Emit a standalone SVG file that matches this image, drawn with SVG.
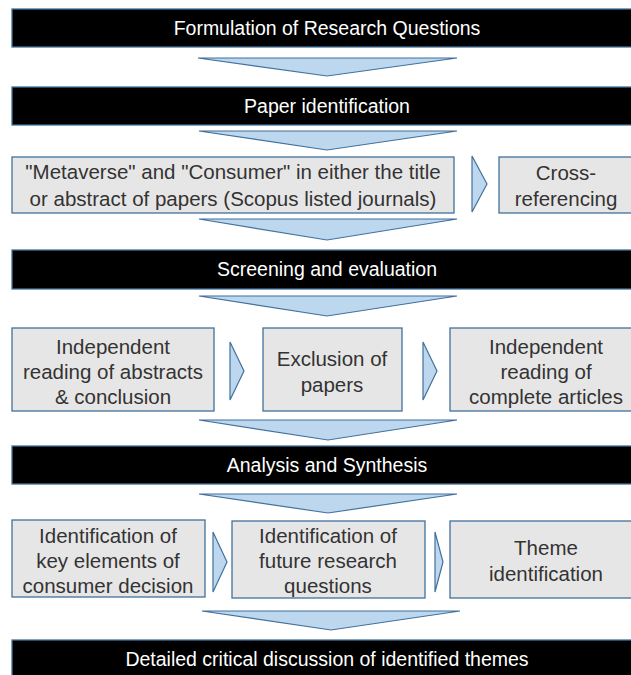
<svg xmlns="http://www.w3.org/2000/svg" width="631" height="675" viewBox="0 0 631 675">
  <style>
    .banner { fill: #000000; stroke: #41719c; stroke-width: 1.3; }
    .box { fill: #e7e6e6; stroke: #41719c; stroke-width: 1.3; }
    .flow { fill: #bdd7ee; stroke: #41719c; stroke-width: 1.2; stroke-linejoin: miter; }
    .bt { fill: #ffffff; font-family: "Liberation Sans", Arial, sans-serif; font-size: 19.5px; text-anchor: middle; dominant-baseline: central; }
    .t { fill: #333333; font-family: "Liberation Sans", Arial, sans-serif; font-size: 20.5px; text-anchor: middle; dominant-baseline: central; }
  </style>
  <rect width="631" height="675" fill="#ffffff"/>

  <g id="formulation">
    <rect class="banner" x="12" y="9" width="632" height="38"/>
    <text class="bt" x="327" y="28">Formulation of Research Questions</text>
  </g>

  <g id="paper-identification">
    <rect class="banner" x="12" y="87" width="632" height="38"/>
    <text class="bt" x="327" y="106">Paper identification</text>
  </g>

  <g id="search-terms">
    <rect class="box" x="12" y="157" width="442" height="56"/>
    <text class="t" x="233" y="171">"Metaverse" and "Consumer" in either the title</text>
    <text class="t" x="233" y="198">or abstract of papers (Scopus listed journals)</text>
  </g>

  <g id="cross-referencing">
    <rect class="box" x="499" y="157" width="145" height="56"/>
    <text class="t" x="566" y="172">Cross-</text>
    <text class="t" x="566" y="198">referencing</text>
  </g>

  <g id="screening">
    <rect class="banner" x="12" y="250" width="632" height="39"/>
    <text class="bt" x="327" y="269">Screening and evaluation</text>
  </g>

  <g id="reading-abstracts">
    <rect class="box" x="12" y="328" width="202" height="83"/>
    <text class="t" x="113" y="346">Independent</text>
    <text class="t" x="113" y="371">reading of abstracts</text>
    <text class="t" x="113" y="396">&amp; conclusion</text>
  </g>

  <g id="exclusion">
    <rect class="box" x="263" y="328" width="139" height="83"/>
    <text class="t" x="332" y="358">Exclusion of</text>
    <text class="t" x="332" y="384">papers</text>
  </g>

  <g id="reading-articles">
    <rect class="box" x="450" y="328" width="194" height="83"/>
    <text class="t" x="546" y="346">Independent</text>
    <text class="t" x="546" y="371">reading of</text>
    <text class="t" x="546" y="396">complete articles</text>
  </g>

  <g id="analysis">
    <rect class="banner" x="12" y="446" width="632" height="38"/>
    <text class="bt" x="327" y="465">Analysis and Synthesis</text>
  </g>

  <g id="key-elements">
    <rect class="box" x="12" y="520" width="193" height="77"/>
    <text class="t" x="108" y="535">Identification of</text>
    <text class="t" x="108" y="560">key elements of</text>
    <text class="t" x="108" y="585">consumer decision</text>
  </g>

  <g id="future-questions">
    <rect class="box" x="232" y="521" width="193" height="77"/>
    <text class="t" x="328" y="535">Identification of</text>
    <text class="t" x="328" y="560">future research</text>
    <text class="t" x="328" y="585">questions</text>
  </g>

  <g id="themes">
    <rect class="box" x="450" y="521" width="194" height="77"/>
    <text class="t" x="546" y="547">Theme</text>
    <text class="t" x="546" y="573">identification</text>
  </g>

  <g id="discussion">
    <rect class="banner" x="12" y="640" width="632" height="40"/>
    <text class="bt" x="327" y="659">Detailed critical discussion of identified themes</text>
  </g>

  <g id="connectors">
    <!-- downward chevrons between stages -->
    <path class="flow" d="M198,58 L457,58 L327,76 Z"/>
    <path class="flow" d="M199,131 L457,131 L327,150 Z"/>
    <path class="flow" d="M199,219 L457,219 L327,240 Z"/>
    <path class="flow" d="M199,296 L457,296 L327,316 Z"/>
    <path class="flow" d="M199,420 L457,420 L328,440 Z"/>
    <path class="flow" d="M199,494 L457,494 L328,513 Z"/>
    <path class="flow" d="M202,611 L460,611 L331,630 Z"/>
    <!-- sideways chevrons within stages -->
    <path class="flow" d="M472,156 L487,184 L472,212 Z"/>
    <path class="flow" d="M230,342 L244,371 L230,400 Z"/>
    <path class="flow" d="M423,342 L437,371 L423,400 Z"/>
    <path class="flow" d="M213,532 L227,562 L213,592 Z"/>
    <path class="flow" d="M435,532 L443,562 L435,592 Z"/>
  </g>
</svg>
